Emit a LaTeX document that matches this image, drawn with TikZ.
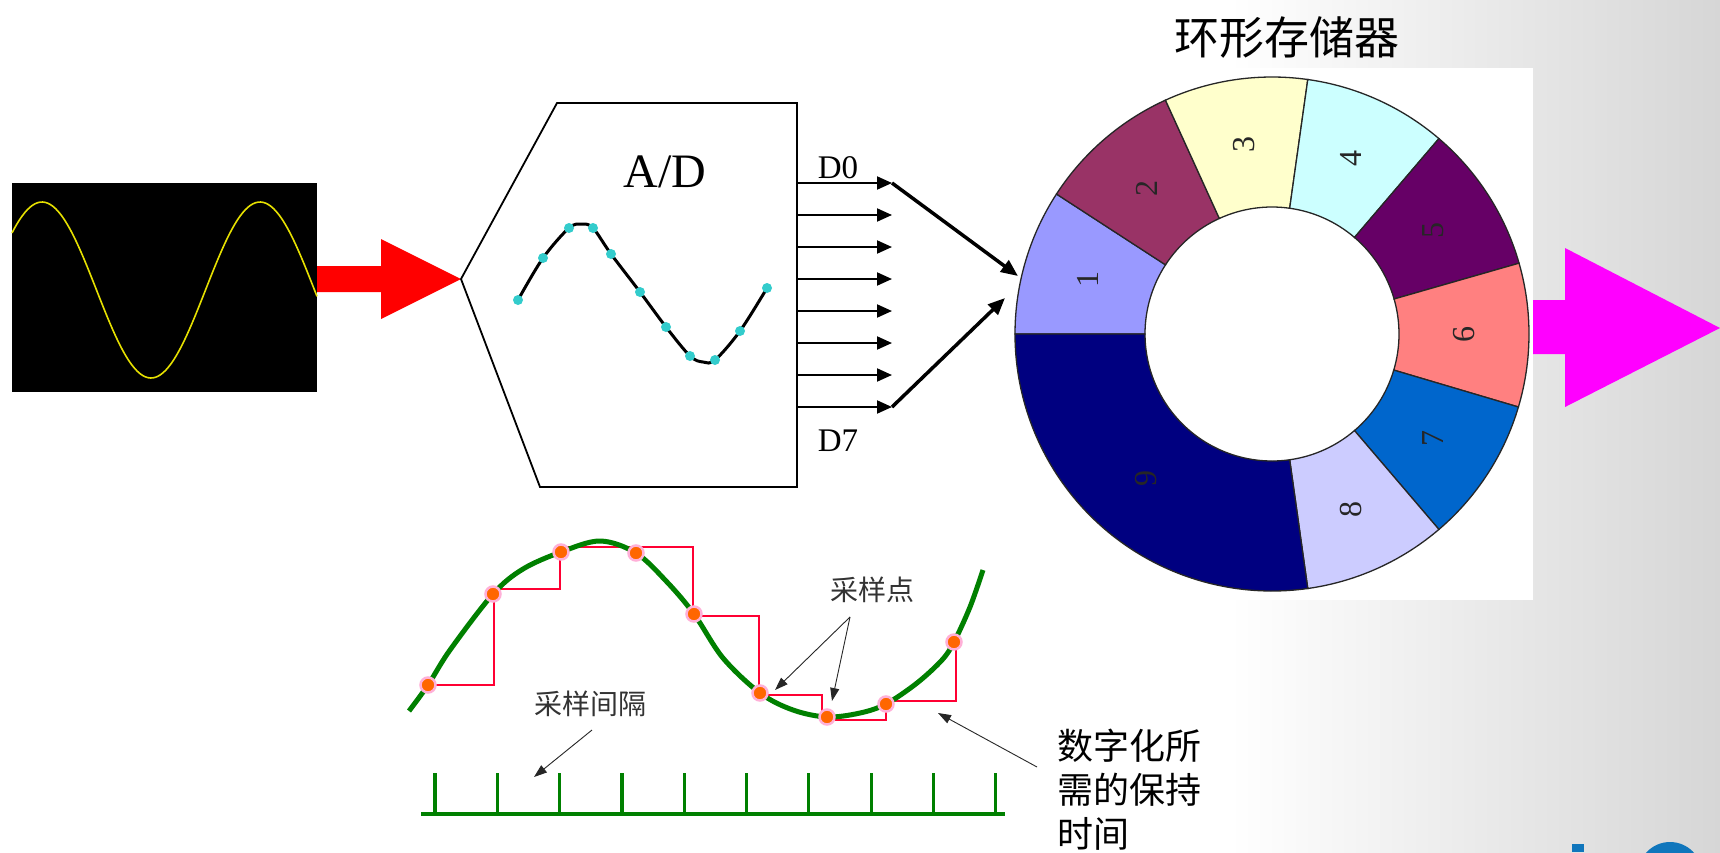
\documentclass[tikz,border=0pt]{standalone}
\usepackage{fontspec}
\setmainfont{Liberation Serif}
\newfontfamily\cjk{Noto Sans CJK SC}
\usetikzlibrary{arrows.meta,calc}
\definecolor{seg1}{HTML}{9999FF}
\definecolor{seg2}{HTML}{993366}
\definecolor{seg3}{HTML}{FFFFCC}
\definecolor{seg4}{HTML}{CCFFFF}
\definecolor{seg5}{HTML}{660066}
\definecolor{seg6}{HTML}{FF8080}
\definecolor{seg7}{HTML}{0066CC}
\definecolor{seg8}{HTML}{CCCCFF}
\definecolor{seg9}{HTML}{000080}
\definecolor{bggray}{HTML}{D6D6D6}
\definecolor{sinyellow}{HTML}{E6E000}
\definecolor{dotcyan}{HTML}{33CCCC}
\definecolor{holdred}{RGB}{255,0,51}
\definecolor{plotgreen}{RGB}{0,128,0}
\definecolor{dotorange}{HTML}{FF6600}
\definecolor{halopink}{HTML}{FFB0D8}
\definecolor{logoblue}{RGB}{16,118,188}
\definecolor{arrowmag}{HTML}{FF00FF}
\tikzset{
  dataline/.style={line width=2, -{Triangle[length=15pt,width=13pt]}},
  thickarrow/.style={line width=3.5, -{Triangle[length=17pt,width=14pt]}},
  thinarrow/.style={line width=0.9, black!85, -{Triangle[length=13pt,width=9pt]}},
  holdline/.style={holdred, line width=2},
  sampledot/.style={circle, fill=dotorange, draw=halopink, line width=2.5, minimum size=15, inner sep=0},
  ringlabel/.style={rotate=90, font=\fontsize{32}{36}\selectfont, text=black!85},
  cjklabel/.style={font=\cjk\fontsize{28}{32}\selectfont, text=black!80},
}
\begin{document}
\begin{tikzpicture}[x=1pt,y=-1pt]
\useasboundingbox (0,0) rectangle (1720,852);
\clip (0,0) rectangle (1720,852);
% background
\fill[white] (0,0) rectangle (1720,852);
\shade[left color=white, right color=bggray] (1230,0) rectangle (1720,852);
\fill[white] (1000,68) rectangle (1533,600);
% blue logo fragments
\fill[logoblue] (1572,844) rectangle (1584,852);
\fill[logoblue] (1670,874) circle (32);

% oscilloscope screen
\node[fill=black, minimum width=305, minimum height=209, inner sep=0, anchor=north west] (scope) at (12,183) {};
\draw[sinyellow, line width=1.6] plot[domain=12:317, samples=120, smooth] (\x,{290-88*cos((\x-42)*1.65138)});

% red block arrow
\fill[red] (317,266) -- (381,266) -- (381,239) -- (461,279) -- (381,319) -- (381,292) -- (317,292) -- cycle;

% A/D converter
\draw[line width=1.8] (461,279) -- (557,103) -- (797,103) -- (797,487) -- (540,487) -- cycle;
\node[font=\fontsize{48}{56}\selectfont] (adlabel) at (665,172) {A/D};
\draw[line width=3] plot[smooth, tension=0.55] coordinates {(518,300) (543,258) (569,228) (582,224) (593,228) (611,254) (640,292) (666,327) (690,356) (703,362) (715,360) (740,331) (767,288)};
\foreach \p in {(518,300),(543,258),(569,228),(593,228),(611,254),(640,292),(666,327),(690,356),(715,360),(740,331),(767,288)}
  \fill[dotcyan] \p circle (5);

% data lines
\foreach \i in {0,...,7} {
  \coordinate (o\i) at (797,{183+32*\i});
  \coordinate (e\i) at (892,{183+32*\i});
  \draw[dataline] (o\i) -- (e\i);
}
\node[font=\fontsize{33}{38}\selectfont] (d0) at (838,168) {D0};
\node[font=\fontsize{33}{38}\selectfont] (d7) at (838,441) {D7};

% ring memory
\node[font=\cjk\fontsize{45}{50}\selectfont] (title) at (1287,37) {环形存储器};
\begin{scope}[shift={(1272,334)}, yscale=-1]
\foreach \a/\b/\c/\n in {147/180/seg1/1, 114.5/147/seg2/2, 82/114.5/seg3/3, 49.5/82/seg4/4, 16/49.5/seg5/5, -16.5/16/seg6/6, -49.5/-16.5/seg7/7, -82/-49.5/seg8/8, 180/278/seg9/9} {
  \filldraw[fill=\c, draw=black!85, line width=1.3] (\a:127) -- (\a:257) arc[start angle=\a, end angle=\b, radius=257] -- (\b:127) arc[start angle=\b, end angle=\a, radius=127] -- cycle;
  \pgfmathsetmacro\m{(\a+\b)/2}
  \node[ringlabel] (lab\n) at (\m:192) {\n};
}
\end{scope}
\coordinate (r1) at (1018,276);
\coordinate (r2) at (1005,298);
\draw[thickarrow] (e0) -- (r1);
\draw[thickarrow] (e7) -- (r2);

% magenta output arrow
\fill[arrowmag] (1533,300) -- (1565,300) -- (1565,248) -- (1720,328) -- (1565,407) -- (1565,354) -- (1533,354) -- cycle;

% sampling plot
\draw[holdline] (428,685) -- (494,685) -- (494,594);
\draw[holdline] (493,589) -- (560,589) -- (560,552);
\draw[holdline] (561,547) -- (693,547) -- (693,614);
\draw[holdline] (694,616) -- (759,616) -- (759,693);
\draw[holdline] (760,695) -- (822,695) -- (822,717);
\draw[holdline] (827,720) -- (886,720) -- (886,704);
\draw[holdline] (886,701) -- (956,701) -- (956,642);
\draw[plotgreen, line width=5] plot[smooth, tension=0.55] coordinates {(409,711) (428,685) (450,650) (493,594) (523,569) (561,552) (600,541) (636,553) (667,582) (694,614) (723,658) (760,693) (793,710) (827,717) (860,713) (886,704) (917,683) (942,660) (954,642) (970,607) (983,570)};
\foreach \p/\k in {(428,685)/1,(493,594)/2,(561,552)/3,(636,553)/4,(694,614)/5,(760,693)/6,(827,717)/7,(886,704)/8,(954,642)/9}
  \node[sampledot] (s\k) at \p {};

% ruler
\draw[plotgreen, line width=3.5] (421,814) -- (1005,814);
\foreach \i in {0,...,9}
  \draw[plotgreen, line width=3.2] ({435+62.3*\i},773) -- ({435+62.3*\i},813);

% labels
\node[cjklabel] (cyd) at (872,590) {采样点};
\coordinate (cydfoot) at (850,617);
\coordinate (pt1) at (775,690);
\coordinate (pt2) at (832,701);
\draw[thinarrow] (cydfoot) -- (pt1);
\draw[thinarrow] (cydfoot) -- (pt2);
\node[cjklabel] (cyjg) at (590,704) {采样间隔};
\coordinate (jgfoot) at (592,730);
\coordinate (jgtip) at (534,777);
\draw[thinarrow] (jgfoot) -- (jgtip);
\node[font=\cjk\fontsize{36}{44}\selectfont, align=left, anchor=west, inner sep=0] (hold) at (1057,790) {数字化所\\需的保持\\时间};
\coordinate (holdfoot) at (1037,767);
\coordinate (holdtip) at (938,713);
\draw[thinarrow] (holdfoot) -- (holdtip);
\end{tikzpicture}
\end{document}
